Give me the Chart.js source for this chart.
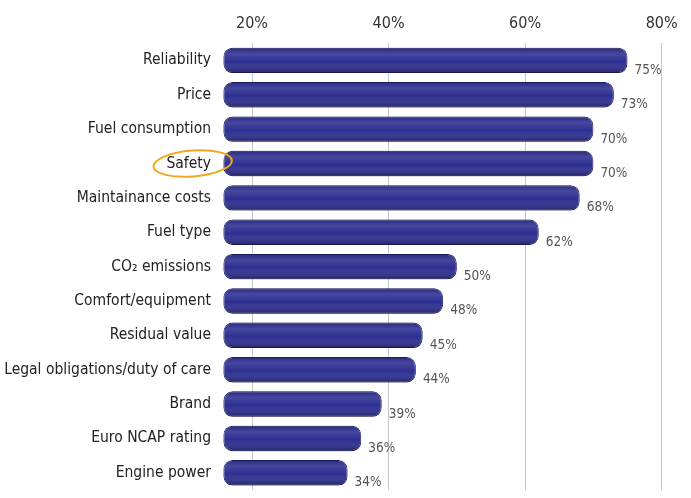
<!DOCTYPE html>
<html lang="en">
<head>
  <meta charset="UTF-8">
  <title>Purchase criteria</title>
  <script src="https://cdn.jsdelivr.net/npm/chart.js"></script>
  <style>
    html, body { margin: 0; padding: 0; background: #ffffff; overflow: hidden; }
    #wrap { width: 691px; height: 498px; position: relative; }
  </style>
</head>
<body>
<div id="wrap"><canvas id="chart"></canvas></div>

<script>
const categories = ["Reliability", "Price", "Fuel consumption", "Safety", "Maintainance costs", "Fuel type",
  "CO\u2082 emissions", "Comfort/equipment", "Residual value", "Legal obligations/duty of care", "Brand",
  "Euro NCAP rating", "Engine power"];
const shares = [75, 73, 70, 70, 68, 62, 50, 48, 45, 44, 39, 36, 34];
const tickValues = [20, 40, 60, 80];
const highlighted = "Safety";

const labelFont = "'Liberation Sans Narrow', 'DejaVu Sans Condensed', Roboto, sans-serif";

// value labels just past the end of each bar
const valueLabels = {
  id: "valueLabels",
  afterDatasetsDraw(chart) {
    const ctx = chart.ctx;
    const meta = chart.getDatasetMeta(0);
    ctx.save();
    ctx.font = "13.5px " + labelFont;
    ctx.fillStyle = "#555";
    ctx.textBaseline = "middle";
    meta.data.forEach((bar, i) => {
      ctx.fillText(shares[i] + "%", bar.x + 7, bar.y + 10);
    });
    ctx.restore();
  }
};

// shine on the bars to look like tubes
const tubeShine = {
  id: "tubeShine",
  afterDatasetsDraw(chart) {
    const ctx = chart.ctx;
    const meta = chart.getDatasetMeta(0);
    ctx.save();
    meta.data.forEach(bar => {
      const h = bar.height, top = bar.y - h / 2;
      const g = ctx.createLinearGradient(0, top, 0, top + h);
      g.addColorStop(0, "rgba(0,0,0,0.15)");
      g.addColorStop(0.25, "rgba(255,255,255,0.12)");
      g.addColorStop(0.55, "rgba(255,255,255,0)");
      g.addColorStop(1, "rgba(0,0,0,0.30)");
      ctx.fillStyle = g;
      ctx.beginPath();
      ctx.roundRect(bar.base, top, bar.x - bar.base, h, 9);
      ctx.fill();
    });
    ctx.restore();
  }
};

// orange ring round the highlighted label
const ringLabel = {
  id: "ringLabel",
  afterDraw(chart) {
    const y = chart.scales.y;
    const i = categories.indexOf(highlighted);
    const cy = y.getPixelForValue(i);
    const ctx = chart.ctx;
    ctx.save();
    ctx.font = "15.5px " + labelFont;
    const w = ctx.measureText(highlighted).width;
    const right = y.right - 11;
    ctx.strokeStyle = "#f2a81d";
    ctx.lineWidth = 2;
    ctx.beginPath();
    ctx.ellipse(right - w / 2 + 4, cy, w / 2 + 17, 13, -0.08, 0, Math.PI * 2);
    ctx.stroke();
    ctx.restore();
  }
};

new Chart(document.getElementById("chart"), {
  type: "bar",
  data: {
    labels: categories,
    datasets: [{
      data: shares,
      base: 15.8,
      backgroundColor: "#2c2f91",
      borderColor: "#1b1e6c",
      borderWidth: 1,
      borderSkipped: false,
      borderRadius: 9,
      barPercentage: 0.74,
      categoryPercentage: 1
    }]
  },
  options: {
    indexAxis: "y",
    responsive: true,
    maintainAspectRatio: false,
    animation: false,
    layout: { padding: { top: 4, right: 0, bottom: 8, left: 0 } },
    plugins: { legend: { display: false }, tooltip: { enabled: false } },
    scales: {
      x: {
        position: "top",
        min: 15.6,
        max: 84.3,
        afterBuildTicks(scale) { scale.ticks = tickValues.map(v => ({ value: v })); },
        grid: { color: "#c8c8c8", lineWidth: 1, drawTicks: false },
        border: { display: false },
        ticks: {
          padding: 10,
          color: "#333",
          font: { size: 16, family: labelFont },
          callback: v => v + "%"
        }
      },
      y: {
        afterFit(scale) {
          scale.width = 222;
          scale.paddingTop = 0;
          scale.paddingBottom = 0;
        },
        grid: { display: false, drawTicks: false },
        border: { display: false },
        ticks: {
          padding: 11,
          color: "#222",
          font: { size: 15.5, family: labelFont }
        }
      }
    }
  },
  plugins: [tubeShine, valueLabels, ringLabel]
});
</script>
</body>
</html>
